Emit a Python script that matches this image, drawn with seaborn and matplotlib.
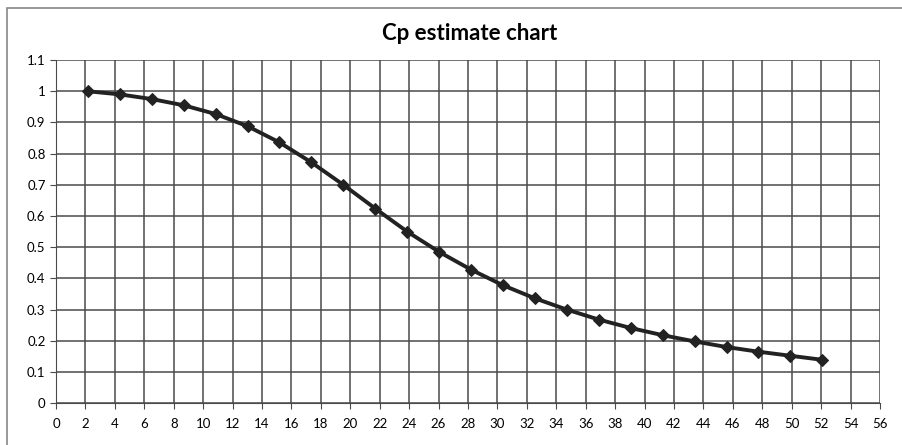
import numpy as np
import pandas as pd
import matplotlib
matplotlib.use("Agg")
import matplotlib.pyplot as plt
import seaborn as sns
from matplotlib.patches import Rectangle

# values
x_vals = [2.17, 4.34, 6.51, 8.68, 10.85, 13.02, 15.19, 17.36, 19.53, 21.7, 23.87, 26.04,
          28.21, 30.38, 32.55, 34.72, 36.89, 39.06, 41.23, 43.4, 45.57, 47.74, 49.91, 52.08]
cp_vals = [1.0, 0.99, 0.975, 0.955, 0.927, 0.888, 0.836, 0.772, 0.700, 0.624, 0.550, 0.485,
           0.428, 0.378, 0.336, 0.300, 0.268, 0.241, 0.218, 0.198, 0.180, 0.165, 0.152, 0.139]
x_ticks = list(range(0, 57, 2))
y_ticks = [0, 0.1, 0.2, 0.3, 0.4, 0.5, 0.6, 0.7, 0.8, 0.9, 1, 1.1]
y_labels = ["0", "0.1", "0.2", "0.3", "0.4", "0.5", "0.6", "0.7", "0.8", "0.9", "1", "1.1"]

df = pd.DataFrame({"x": x_vals, "cp": cp_vals})

sns.set_style("white")
plt.rcParams["font.family"] = ["Lato", "DejaVu Sans"]
plt.rcParams["text.color"] = "black"
plt.rcParams["xtick.color"] = "black"
plt.rcParams["ytick.color"] = "black"

fig = plt.figure(figsize=(9.03, 4.45), dpi=100)
ax = fig.add_axes([0.062, 0.094, 0.9125, 0.771])

sns.lineplot(data=df, x="x", y="cp", ax=ax, color="#222222", linewidth=2.8,
             marker="D", markersize=6, markeredgecolor="#222222")

ax.set_xlim(0, 56)
ax.set_ylim(0, 1.1)
ax.set_xticks(x_ticks)
ax.set_xticklabels([str(t) for t in x_ticks], fontsize=9.5)
ax.set_yticks(y_ticks)
ax.set_yticklabels(y_labels, fontsize=9.5)
ax.grid(True, color="#4a4a4a", linewidth=1.1)
ax.set_axisbelow(True)
for s in ["top", "right"]:
    ax.spines[s].set_visible(False)
ax.spines["left"].set_color("#4a4a4a")
ax.spines["bottom"].set_color("#4a4a4a")
ax.tick_params(axis="both", length=4, color="#4a4a4a", direction="out", bottom=True, left=True)
ax.tick_params(axis="x", pad=7)
ax.set_xlabel("")
ax.set_ylabel("")

fig.text(0.52, 0.925, "Cp estimate chart", ha="center", va="center",
         fontsize=16, fontweight="bold")
fig.patches.append(Rectangle((0.008, -0.01), 1.0, 0.992, transform=fig.transFigure,
                             fill=False, edgecolor="#888888", linewidth=1.2))

fig.savefig("out.png", dpi=100)
